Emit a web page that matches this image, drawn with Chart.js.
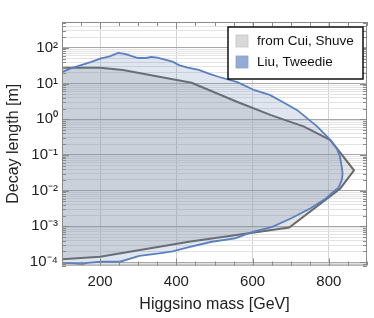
<!DOCTYPE html>
<html>
<head>
<meta charset="utf-8">
<script src="https://cdn.jsdelivr.net/npm/chart.js@4/dist/chart.umd.min.js"></script>
<style>
    body { margin: 0; background: #fff; }
    #wrap { width: 374px; height: 318px; }
</style>
</head>
<body>
<div id="wrap"><canvas id="chart" width="374" height="318"></canvas></div>
<script>
// Region, walked round clockwise from the top-left corner.
const cuiMass   = [100, 200, 260, 355, 440, 562, 648, 735, 804, 866, 830, 696, 433, 200, 100];
const cuiLength = [27.5, 27.5, 24, 15.5, 10.5, 3.0, 1.3, 0.62, 0.26, 0.037, 0.0115, 9.3e-4, 3.7e-4, 1.4e-4, 1.2e-4];

const liuMass = [100, 125, 150, 175, 200, 225, 247, 265, 285, 300, 320, 334, 350, 370, 390, 407, 430, 459, 485, 510,
    560, 605, 645, 680, 717, 769, 800, 821, 829, 834, 836, 834, 825, 812, 790, 752, 700, 650, 600, 554, 493, 433,
    390, 355, 303, 252, 200, 166, 153, 130, 100];
const liuLength = [21, 27, 33, 40, 50, 58, 72, 68, 58, 52, 52, 56, 53, 47, 41, 33, 28, 24, 19, 15.5,
    11, 6.5, 4.8, 3.0, 1.8, 0.63, 0.29, 0.15, 0.09, 0.045, 0.03, 0.02, 0.012, 0.0093, 0.0058, 0.0032, 0.00166,
    0.00095, 7e-4, 4.6e-4, 3.7e-4, 2.6e-4, 2.0e-4, 1.74e-4, 1.48e-4, 1.02e-4, 1.02e-4, 9.5e-5, 8.7e-5, 9.2e-5, 9.5e-5];

const seriesNames = ['from Cui, Shuve', 'Liu, Tweedie'];
const massTicks = [200, 400, 600, 800];
const lengthExponents = [-4, -3, -2, -1, 0, 1, 2];

const SUPERSCRIPT = { '-': '\u207B', '0': '\u2070', '1': '\u00B9', '2': '\u00B2', '3': '\u00B3', '4': '\u2074' };
const FONT = '"Liberation Sans", Arial, sans-serif';

function toPoints(xs, ys) {
    return xs.map((x, i) => ({ x: x, y: ys[i] }));
}

function isDecade(v) {
    let e = Math.log10(v);
    return Math.abs(e - Math.round(e)) < 1e-9;
}

function decadeLabel(v) {
    let e = Math.round(Math.log10(v));
    if (lengthExponents.indexOf(e) === -1) {
        return '';
    }
    return '10' + String(e).split('').map(c => SUPERSCRIPT[c]).join('');
}

// frame, inward ticks on all four sides and the boxed legend
const framePlugin = {
    id: 'frame',
    afterDraw(chart) {
        const ctx = chart.ctx;
        const a = chart.chartArea;
        const xs = chart.scales.x;
        const ys = chart.scales.y;

        ctx.save();
        ctx.strokeStyle = '#8a8a8a';
        ctx.lineWidth = 1;
        ctx.strokeRect(a.left + 0.5, a.top + 0.5, a.right - a.left - 1, a.bottom - a.top - 1);

        ctx.beginPath();
        xs.ticks.forEach(t => {
            let px = Math.round(xs.getPixelForValue(t.value)) + 0.5;
            let len = massTicks.indexOf(t.value) !== -1 ? 7 : 4;
            ctx.moveTo(px, a.bottom); ctx.lineTo(px, a.bottom - len);
            ctx.moveTo(px, a.top); ctx.lineTo(px, a.top + len);
        });
        ys.ticks.forEach(t => {
            let py = Math.round(ys.getPixelForValue(t.value)) + 0.5;
            let len = isDecade(t.value) ? 7 : 4;
            ctx.moveTo(a.left, py); ctx.lineTo(a.left + len, py);
            ctx.moveTo(a.right, py); ctx.lineTo(a.right - len, py);
        });
        ctx.stroke();

        // legend box
        let bx = 228, by = 27, bw = 135, bh = 52;
        ctx.fillStyle = '#fff';
        ctx.fillRect(bx, by, bw, bh);
        ctx.strokeStyle = '#111';
        ctx.lineWidth = 1.5;
        ctx.strokeRect(bx, by, bw, bh);

        const swatches = ['#d9d9d9', '#94acd4'];
        ctx.font = '13.5px ' + FONT;
        ctx.textBaseline = 'middle';
        seriesNames.forEach((name, i) => {
            let sy = by + 8 + i * 21;
            ctx.fillStyle = swatches[i];
            ctx.fillRect(bx + 8, sy, 12, 12);
            ctx.strokeStyle = i === 0 ? '#c4c4c4' : '#8aa3cc';
            ctx.lineWidth = 0.8;
            ctx.strokeRect(bx + 8, sy, 12, 12);
            ctx.fillStyle = '#111';
            ctx.fillText(name, bx + 29, sy + 6.5);
        });
        ctx.restore();
    }
};

window.onload = function() {
    new Chart(document.getElementById('chart'), {
        type: 'scatter',
        data: {
            datasets: [{
                label: seriesNames[0],
                data: toPoints(cuiMass, cuiLength),
                showLine: true,
                fill: 'shape',
                backgroundColor: 'rgba(160,160,160,0.27)',
                borderColor: '#6a6a6a',
                borderWidth: 2,
                pointRadius: 0,
                tension: 0,
                order: 2
            }, {
                label: seriesNames[1],
                data: toPoints(liuMass, liuLength),
                showLine: true,
                fill: 'shape',
                backgroundColor: 'rgba(94,129,181,0.2)',
                borderColor: '#5a80c0',
                borderWidth: 1.8,
                pointRadius: 0,
                tension: 0,
                order: 1
            }]
        },
        options: {
            responsive: false,
            animation: false,
            layout: { padding: { top: 22, right: 5, left: 0, bottom: 0 } },
            plugins: {
                legend: { display: false },
                tooltip: { enabled: false }
            },
            scales: {
                x: {
                    type: 'linear',
                    min: 100,
                    max: 900,
                    afterFit: s => { s.height = 52.5; },
                    border: { display: false },
                    grid: {
                        drawTicks: false,
                        color: ctx => massTicks.indexOf(ctx.tick.value) !== -1 ? '#d2d2d2' : 'rgba(0,0,0,0)'
                    },
                    ticks: {
                        stepSize: 50,
                        autoSkip: false,
                        maxRotation: 0,
                        padding: 7,
                        color: '#222',
                        font: { family: FONT, size: 15 },
                        callback: v => massTicks.indexOf(v) !== -1 ? String(v) : ''
                    },
                    title: {
                        display: true,
                        text: 'Higgsino mass [GeV]',
                        color: '#222',
                        font: { family: FONT, size: 16 }
                    }
                },
                y: {
                    type: 'logarithmic',
                    min: 8e-5,
                    max: 530,
                    afterFit: s => { s.width = 62; },
                    afterBuildTicks: s => {
                        let ticks = [];
                        for (let e = -5; e <= 2; e++) {
                            for (let m = 1; m <= 9; m++) {
                                let v = m * Math.pow(10, e);
                                if (v >= s.min && v <= s.max) {
                                    ticks.push({ value: v });
                                }
                            }
                        }
                        s.ticks = ticks;
                    },
                    border: { display: false },
                    grid: {
                        drawTicks: false,
                        color: ctx => isDecade(ctx.tick.value) ? '#a8a8a8' : '#e3e3e3'
                    },
                    ticks: {
                        autoSkip: false,
                        padding: 4,
                        color: '#222',
                        font: { family: FONT, size: 15 },
                        callback: v => isDecade(v) ? decadeLabel(v) : ''
                    },
                    title: {
                        display: true,
                        text: 'Decay length [m]',
                        color: '#222',
                        font: { family: FONT, size: 16 }
                    }
                }
            }
        },
        plugins: [framePlugin]
    });
};
</script>
</body>
</html>
